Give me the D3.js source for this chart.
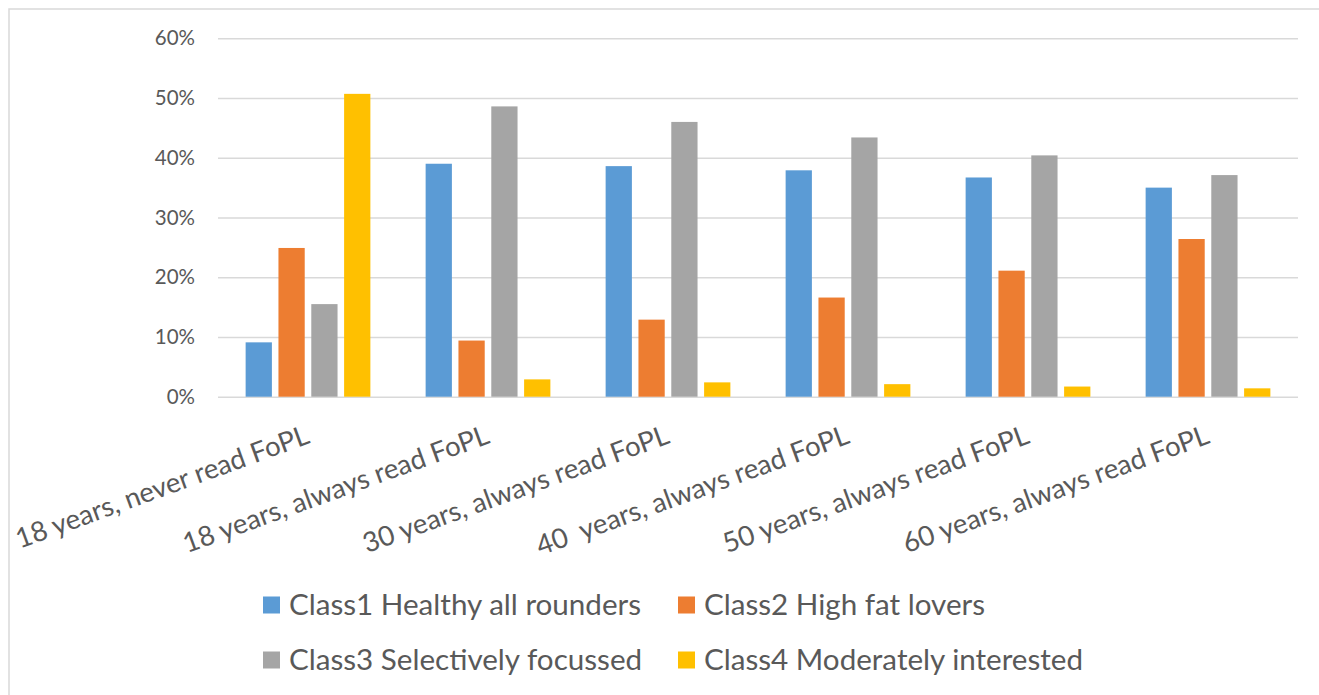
<!DOCTYPE html>
<html>
<head>
<meta charset="utf-8">
<script src="https://cdn.jsdelivr.net/npm/d3@7"></script>
<style>
  html, body { margin: 0; padding: 0; background: #fff; }
  svg { display: block; font-family: Lato, "Open Sans", sans-serif; }
</style>
</head>
<body>
<svg id="chart" width="1319" height="695"></svg>
<script>
// Share of each consumer class by age / FoPL reading habit (percent)
const categories = [
  "18 years, never read FoPL",
  "18 years, always read FoPL",
  "30 years, always read FoPL",
  "40  years, always read FoPL",
  "50 years, always read FoPL",
  "60 years, always read FoPL"
];
const seriesNames = [
  "Class1 Healthy all rounders",
  "Class2 High fat lovers",
  "Class3 Selectively focussed",
  "Class4 Moderately interested"
];
const class1 = [9.1, 39.0, 38.6, 37.9, 36.7, 35.0];
const class2 = [24.9, 9.4, 12.9, 16.6, 21.1, 26.4];
const class3 = [15.5, 48.6, 46.0, 43.4, 40.4, 37.1];
const class4 = [50.7, 2.9, 2.4, 2.1, 1.7, 1.4];
const yTicks = [0, 10, 20, 30, 40, 50, 60];
const colors = ["#5B9BD5", "#ED7D31", "#A5A5A5", "#FFC000"];

const seriesValues = [class1, class2, class3, class4];
const rows = categories.map((c, i) => ({
  category: c,
  values: seriesNames.map((s, j) => ({ series: s, value: seriesValues[j][i] }))
}));

const svg = d3.select("#chart");
const textColor = "#595959";
const gridColor = "#D9D9D9";

// chart frame
svg.append("rect")
  .attr("x", 9).attr("y", 9)
  .attr("width", 1330).attr("height", 700)
  .attr("fill", "none").attr("stroke", gridColor).attr("stroke-width", 1.5);

const plot = { left: 218, right: 1298, top: 38.3, bottom: 396.7 };

const x0 = d3.scaleBand()
  .domain(categories)
  .range([plot.left, plot.right])
  .paddingInner(0.307)
  .paddingOuter(0.1535);

const x1 = d3.scaleBand()
  .domain(seriesNames)
  .range([0, x0.bandwidth()])
  .paddingInner(0.2)
  .paddingOuter(0);

const y = d3.scaleLinear().domain([0, 60]).range([plot.bottom, plot.top]);
const color = d3.scaleOrdinal().domain(seriesNames).range(colors);

// horizontal gridlines + percent labels
const yAxis = svg.append("g")
  .attr("transform", `translate(${plot.left},0)`)
  .call(d3.axisLeft(y).tickValues(yTicks).tickFormat(d => d + "%")
    .tickSize(-(plot.right - plot.left)).tickPadding(23));
yAxis.select(".domain").remove();
yAxis.selectAll(".tick line").attr("stroke", gridColor).attr("stroke-width", 1.6);
yAxis.selectAll(".tick text")
  .attr("fill", textColor)
  .style("font-size", "20.5px")
  .style("font-family", "Lato, sans-serif");

// grouped bars
const groups = svg.append("g").selectAll("g")
  .data(rows)
  .join("g")
  .attr("transform", d => `translate(${x0(d.category)},0)`);

groups.selectAll("rect")
  .data(d => d.values)
  .join("rect")
  .attr("x", d => x1(d.series))
  .attr("width", x1.bandwidth())
  .attr("y", d => y(d.value))
  .attr("height", d => y(0) - y(d.value))
  .attr("fill", d => color(d.series));

// category axis with slanted labels
const xAxis = svg.append("g")
  .attr("transform", `translate(0,${plot.bottom})`)
  .call(d3.axisBottom(x0).tickSize(0));
xAxis.select(".domain").remove();
xAxis.selectAll(".tick text")
  .attr("fill", textColor)
  .style("font-size", "27.5px")
  .style("font-family", "Lato, sans-serif")
  .style("white-space", "pre")
  .attr("text-anchor", "end")
  .attr("dy", null)
  .attr("y", 0)
  .attr("transform", "translate(3,46) rotate(-20)");

// legend, two rows of two
const legend = svg.append("g");
const legendCols = [263, 678];
const legendRows = [605, 660];
const items = legend.selectAll("g")
  .data(seriesNames)
  .join("g")
  .attr("transform", (d, i) => `translate(${legendCols[i % 2]},${legendRows[Math.floor(i / 2)]})`);
items.append("rect")
  .attr("x", 0).attr("y", -8.5)
  .attr("width", 17).attr("height", 17)
  .attr("fill", d => color(d));
items.append("text")
  .attr("x", 26).attr("y", 0)
  .attr("dy", "0.35em")
  .attr("fill", textColor)
  .style("font-size", "29.6px")
  .text(d => d);
</script>
</body>
</html>
